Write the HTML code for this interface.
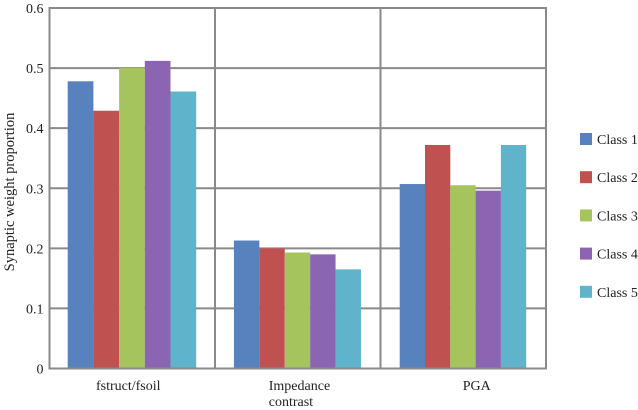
<!DOCTYPE html>
<html>
<head>
<meta charset="utf-8">
<style>
html,body{margin:0;padding:0;background:#fff;}
svg{display:block;}
text{font-family:"Liberation Serif",serif;fill:#222;font-size:14px;}
</style>
</head>
<body>
<svg id="chart" width="638" height="410" viewBox="0 0 638 410" xmlns="http://www.w3.org/2000/svg"></svg>
<script>
const categories = [["fstruct/fsoil"], ["Impedance", "contrast"], ["PGA"]];
const seriesNames = ["Class 1", "Class 2", "Class 3", "Class 4", "Class 5"];
const class1 = [0.478, 0.213, 0.307];
const class2 = [0.429, 0.200, 0.372];
const class3 = [0.500, 0.193, 0.305];
const class4 = [0.512, 0.190, 0.296];
const class5 = [0.461, 0.165, 0.372];
const yTicks = [0, 0.1, 0.2, 0.3, 0.4, 0.5, 0.6];
const yMax = 0.6;

const allSeries = [class1, class2, class3, class4, class5];
const colors = ["#5882bd", "#bf5250", "#a6c45e", "#8b65b2", "#5fb4cb"];
const svg = document.getElementById('chart');
const NS = 'http://www.w3.org/2000/svg';
const plotLeft = 49.5, plotRight = 546, plotTop = 8, plotBottom = 368.5;
const barW = [25.7, 25.4, 25.3];
const catW = (plotRight - plotLeft) / categories.length;
const labelShift = [-4, 0, 13.5];

function yScale(v) { return plotBottom - (v / yMax) * (plotBottom - plotTop); }
function xCat(i) { return plotLeft + catW * i; }
function xBar(c, s) { return xCat(c) + (catW - barW[c] * 5) / 2 - 0.3 + s * barW[c]; }

function mk(tag, attrs) {
  const el = document.createElementNS(NS, tag);
  for (const k in attrs) el.setAttribute(k, attrs[k]);
  svg.appendChild(el);
  return el;
}

// horizontal gridlines
yTicks.forEach(function (t) {
  if (t === 0) return;
  const l = mk('line', {x1: plotLeft, x2: plotRight, y1: yScale(t), y2: yScale(t), stroke: '#8a8a8a', 'stroke-width': 2});
  
  
});

// vertical separators and plot border
for (let c = 0; c <= categories.length; c++) {
  const l = mk('line', {x1: xCat(c), x2: xCat(c), y1: plotTop, y2: plotBottom, stroke: '#8a8a8a', 'stroke-width': 2});
  
  
}

// bars
allSeries.forEach(function (vals, s) {
  vals.forEach(function (v, c) {
    const r = mk('rect', {x: xBar(c, s), y: yScale(v), width: barW[c], height: plotBottom - yScale(v), fill: colors[s]});
    
    
  });
});

// x axis line
const xAxis = mk('line', {x1: plotLeft - 1, x2: plotRight + 1, y1: plotBottom, y2: plotBottom, stroke: '#8a8a8a', 'stroke-width': 2});



// top border
const topBorder = mk('line', {x1: plotLeft - 1, x2: plotRight + 1, y1: plotTop, y2: plotTop, stroke: '#8a8a8a', 'stroke-width': 2});



// y tick labels
yTicks.forEach(function (t) {
  const e = mk('text', {x: 43.5, y: yScale(t) + 5, 'text-anchor': 'end'});
  e.textContent = t === 0 ? '0' : t.toFixed(1);
  
  
});

// category labels
categories.forEach(function (lines, c) {
  lines.forEach(function (txt, n) {
    const multi = lines.length > 1;
    const cx = xCat(c) + catW / 2 + labelShift[c];
    const e = mk('text', {x: multi ? cx - 29 : cx, y: 390 + n * 16, 'text-anchor': multi ? 'start' : 'middle'});
    e.textContent = txt;
    
    
  });
});

// y axis title
const yTitle = mk('text', {x: 0, y: 0, 'text-anchor': 'middle', transform: 'translate(14,192) rotate(-90)', style: 'font-size:14.5px'});
yTitle.textContent = 'Synaptic weight proportion';



// legend
seriesNames.forEach(function (name, s) {
  const ly = 139 + s * 38.2;
  const sw = mk('rect', {x: 580, y: ly - 6, width: 12, height: 12, fill: colors[s]});
  
  
  const e = mk('text', {x: 597, y: ly + 5});
  e.textContent = name;
  
  
});
</script>
</body>
</html>
